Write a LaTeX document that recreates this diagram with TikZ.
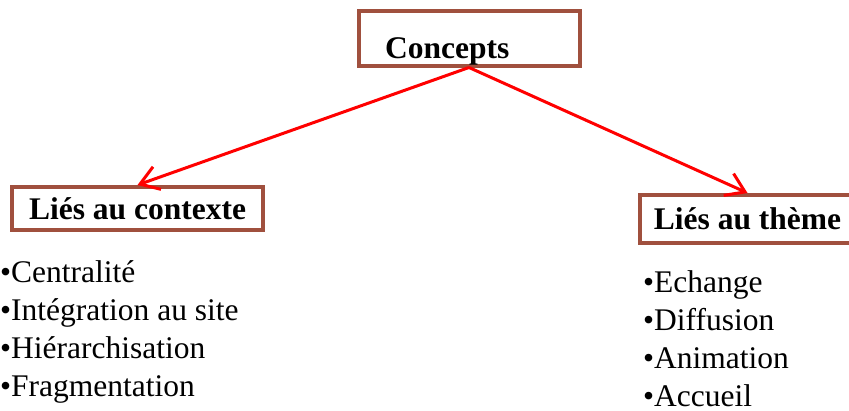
\documentclass[tikz,border=0pt]{standalone}
\usepackage{fontspec}
\setmainfont{Liberation Serif}
\usetikzlibrary{arrows.meta}
\definecolor{cadre}{RGB}{160,80,62}
\tikzset{
  boite/.style={draw=cadre, line width=4pt, inner sep=0pt},
  titre/.style={font=\fontsize{31.5}{36}\selectfont\bfseries},
  item/.style={font=\fontsize{31.5}{38}\selectfont, anchor=base west, inner sep=0pt},
  lien/.style={red, line width=3pt, -{Straight Barb[length=18pt, width=24pt]}}
}
\begin{document}
\begin{tikzpicture}[x=1pt, y=-1pt]
  \useasboundingbox (0,0) rectangle (849,410);

  % cadres
  \node[boite, minimum width=221pt, minimum height=55pt] (concepts) at (469,38) {};
  \node[titre, anchor=base west, inner sep=0pt] (tconcepts) at (385,58) {Concepts};
  \node[boite, titre, minimum width=251pt, minimum height=43pt] (contexte) at (137.5,208.5) {Liés au contexte};
  \node[boite, titre, minimum width=215pt, minimum height=48pt] (theme) at (747.5,219) {Liés au thème};

  % fleches
  \draw[lien] (concepts.south) -- (contexte.north);
  \draw[lien] (concepts.south) -- (theme.north);

  % listes
  \foreach \t [count=\i] in {Centralité, Intégration au site, Hiérarchisation, Fragmentation}
    { \node[item] (c\i) at (0, 282+38.3*\i-38.3) {•\t}; }
  \foreach \t [count=\i] in {Echange, Diffusion, Animation, Accueil}
    { \node[item] (t\i) at (643, 292+38.3*\i-38.3) {•\t}; }
\end{tikzpicture}
\end{document}
